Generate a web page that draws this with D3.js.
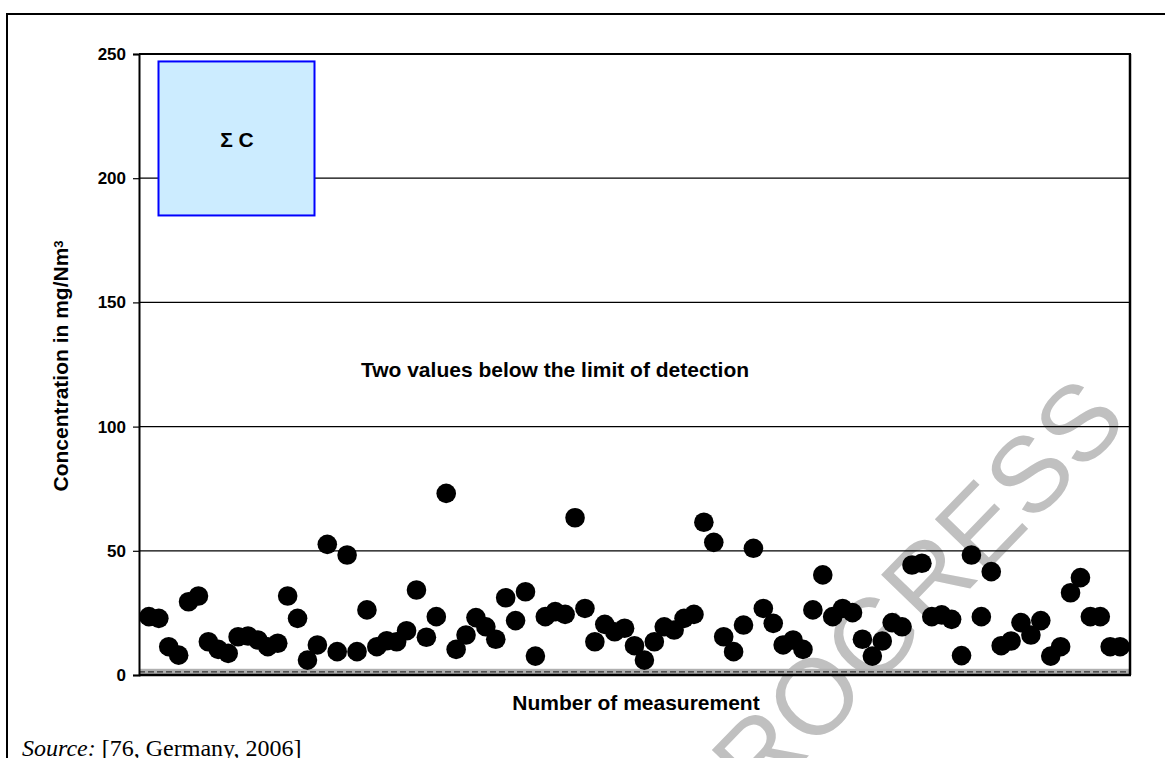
<!DOCTYPE html>
<html><head><meta charset="utf-8">
<script src="https://cdn.jsdelivr.net/npm/d3@7"></script>
<style>
html,body{margin:0;padding:0;background:#fff;overflow:hidden;}
svg{display:block;font-family:Arial,"Liberation Sans",sans-serif;}
</style></head><body>
<svg id="chart" width="1165" height="758"></svg>
<script>
const measurementValues = [23.5,22.8,11.4,8.0,29.5,31.8,13.4,10.3,8.7,15.4,15.7,14.1,11.4,12.8,31.8,22.8,6.0,12.1,52.6,9.4,
48.3,9.4,26.2,11.4,13.8,13.4,17.8,34.2,15.2,23.5,73.1,10.3,16.1,23.1,19.4,14.4,31.1,21.9,33.5,7.6,
23.5,25.5,24.4,63.3,26.8,13.4,20.4,17.4,18.8,11.8,6.0,13.4,19.4,18.1,22.8,24.4,61.5,53.4,15.4,9.4,
20.1,51.0,26.8,20.8,12.1,14.1,10.3,26.2,40.3,23.5,26.8,25.1,14.4,7.6,13.7,21.1,19.4,44.3,45.0,23.5,
24.2,22.4,7.8,48.3,23.5,41.6,11.8,13.7,21.1,16.1,21.9,7.6,11.4,33.1,39.2,23.5,23.5,11.4,11.4];
const yTicks = [0,50,100,150,200,250];
const detectionLimit = [2.5];
const legendLabel = ["\u03A3 C"];
const legendRange = [185, 247];
const annotation = ["Two values below the limit of detection"];
const yTitle = "Concentration in mg/Nm";
const xTitle = "Number of measurement";
const watermark = "PROGRESS";

const svg = d3.select("#chart");
const L = 139, R = 1130, T = 54, B = 675;
const x = d3.scaleLinear().domain([0, measurementValues.length + 1]).range([L, R]);
const y = d3.scaleLinear().domain([0, 250]).range([B, T]);

// outer frame
svg.append("rect").attr("x",7).attr("y",14).attr("width",1200).attr("height",800)
  .attr("fill","none").attr("stroke","#000").attr("stroke-width",2);

// watermark
svg.append("text").attr("transform","translate(892,614) rotate(-46)")
  .attr("text-anchor","middle").attr("dy","0.36em")
  .attr("font-family","Arial, 'Liberation Sans', sans-serif")
  .attr("font-size",107).attr("fill","#c0c0c0").text(watermark);

// gridlines
svg.append("g").selectAll("line").data(yTicks.filter(d=>d>0 && d<250)).join("line")
  .attr("x1",L).attr("x2",R).attr("y1",d=>y(d)).attr("y2",d=>y(d))
  .attr("stroke","#000").attr("stroke-width",1.2);

// detection limit band
svg.append("rect").attr("x",L).attr("y",y(detectionLimit[0])).attr("width",R-L)
  .attr("height",y(0)-y(detectionLimit[0])).attr("fill","#b0b0b0");
svg.append("line").attr("x1",L).attr("x2",R)
  .attr("y1",(y(0)+y(detectionLimit[0]))/2).attr("y2",(y(0)+y(detectionLimit[0]))/2)
  .attr("stroke","#333").attr("stroke-width",1.3).attr("stroke-dasharray","6,3");

// plot border top/right/bottom
svg.append("line").attr("x1",L).attr("x2",R+1).attr("y1",T).attr("y2",T).attr("stroke","#000").attr("stroke-width",2);
svg.append("line").attr("x1",R).attr("x2",R).attr("y1",T).attr("y2",B).attr("stroke","#000").attr("stroke-width",2.5);
svg.append("line").attr("x1",L).attr("x2",R+1).attr("y1",B).attr("y2",B).attr("stroke","#000").attr("stroke-width",2.5);

// y axis
const yAxis = d3.axisLeft(y).tickValues(yTicks).tickSize(6).tickPadding(7);
const gy = svg.append("g").attr("transform",`translate(${L},0)`).call(yAxis);
gy.select(".domain").attr("stroke","#000").attr("stroke-width",2);
gy.selectAll(".tick line").attr("stroke","#000").attr("stroke-width",1.2);
gy.selectAll(".tick text").attr("font-size",17).attr("font-weight","bold")
  .attr("font-family","Arial, 'Liberation Sans', sans-serif").attr("fill","#000");

// legend box
svg.append("rect").attr("x",158.5).attr("y",y(legendRange[1])).attr("width",156)
  .attr("height",y(legendRange[0])-y(legendRange[1]))
  .attr("fill","#CCECFF").attr("stroke","#0000FF").attr("stroke-width",2);
svg.append("text").attr("x",237).attr("y",(y(legendRange[0])+y(legendRange[1]))/2+1)
  .attr("dy","0.35em").attr("text-anchor","middle").attr("font-size",21).attr("font-weight","bold")
  .text(legendLabel[0]);

// annotation
svg.append("text").attr("x",555).attr("y",370).attr("dy","0.35em").attr("text-anchor","middle")
  .attr("font-size",21).attr("font-weight","bold").text(annotation[0]);

// points
svg.append("g").selectAll("circle").data(measurementValues).join("circle")
  .attr("cx",(d,i)=>x(i+1)).attr("cy",d=>y(d)).attr("r",9.8).attr("fill","#000");

// titles
const yt = svg.append("text").attr("transform","translate(61,366) rotate(-90)")
  .attr("text-anchor","middle").attr("dy","0.35em").attr("font-size",21).attr("font-weight","bold");
yt.append("tspan").text(yTitle);
yt.append("tspan").attr("dy","-0.45em").attr("font-size",13).text("3");

svg.append("text").attr("x",636).attr("y",703).attr("dy","0.35em").attr("text-anchor","middle")
  .attr("font-size",21).attr("font-weight","bold").text(xTitle);

// source
const src = svg.append("text").attr("x",22).attr("y",756)
  .attr("font-family","'Liberation Serif','Times New Roman',serif").attr("font-size",24);
src.append("tspan").attr("font-style","italic").text("Source:");
src.append("tspan").text(" [76, Germany, 2006]");
</script>
</body></html>
